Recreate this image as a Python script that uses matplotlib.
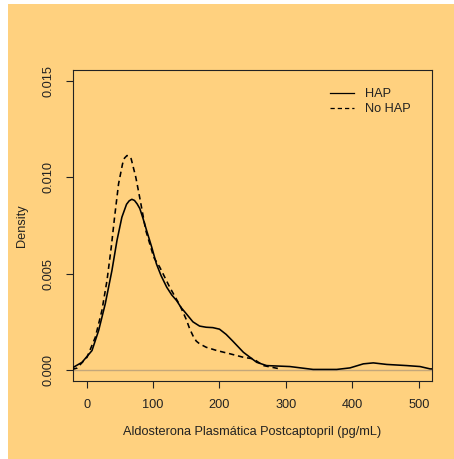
import matplotlib
matplotlib.use("Agg")
import matplotlib.pyplot as plt
from matplotlib.patches import Rectangle

# Density curve for HAP (solid)
hap_x = [-30, -19.6, -7, 8, 18, 28, 38, 45.6, 53, 60, 64, 68, 72, 76, 80, 85, 90, 98, 105, 112,
         120.5, 128, 135.5, 142, 150, 160, 170, 180, 190, 200, 210, 220, 236, 256,
         271, 306, 341, 376.5, 396.5,
         416.6, 431.6, 451.8, 482, 502, 517, 540]
hap_y = [0.00005, 0.00015, 0.0004, 0.00101, 0.00205, 0.00344, 0.00516, 0.00672, 0.00793,
         0.0086, 0.00878, 0.00886, 0.0088, 0.00862, 0.00838, 0.00785, 0.00727, 0.00637,
         0.00551, 0.0049,
         0.0043, 0.0039, 0.0036, 0.00325, 0.00292, 0.0025, 0.00228, 0.00222, 0.0022,
         0.00212, 0.00185, 0.0015, 0.00092, 0.0004,
         0.00023, 0.00018, 0.00003, 0.00003, 0.00011,
         0.00032, 0.00037, 0.00029, 0.00023, 0.00018, 0.00006, 0.00003]

# Density curve for No HAP (dashed)
nohap_x = [-22, -14.6, 0.5, 13, 23, 30.6, 37, 42, 48, 54, 57, 60.7, 64, 67, 74, 80.7, 89, 95,
           101, 110, 125, 140.5, 150, 155, 160, 165, 170, 180, 196, 216, 236, 251, 266, 291]
nohap_y = [0.00003, 0.0001, 0.00066, 0.0017, 0.0031, 0.00465, 0.00637, 0.00793, 0.00966,
           0.0107, 0.011, 0.01113, 0.0111, 0.01096, 0.01, 0.0088, 0.00724, 0.00655, 0.00585,
           0.00534, 0.0043, 0.00335, 0.00262, 0.00215, 0.00178, 0.0015, 0.00136, 0.00118,
           0.00101, 0.00084, 0.00066, 0.00058, 0.00023, 0.00006]

x_ticks = [0, 100, 200, 300, 400, 500]
y_ticks = [0.000, 0.005, 0.010, 0.015]
y_tick_labels = ["0.000", "0.005", "0.010", "0.015"]
series_labels = ["HAP", "No HAP"]

BG = "#FFD17F"
FS = 9.2

plt.rcParams['font.family'] = ['Liberation Sans', 'DejaVu Sans']

W, H = 454, 459
fig = plt.figure(figsize=(W / 100, H / 100), dpi=100)
fig.patch.set_facecolor("white")
fig.add_artist(Rectangle((8 / W, 0), 1 - 8 / W, 1 - 4 / H, transform=fig.transFigure,
                         facecolor=BG, edgecolor="none", zorder=-10))

ax = fig.add_axes([73 / W, 1 - 381 / H, (432 - 73) / W, (381 - 70) / H])
ax.set_facecolor(BG)

ax.axhline(0, color="#C4A77A", lw=1.0, zorder=1)
ax.plot(hap_x, hap_y, color="black", lw=1.15, solid_joinstyle="round", label=series_labels[0], zorder=3)
ax.plot(nohap_x, nohap_y, color="black", lw=1.15, dashes=(3.4, 2.4), label=series_labels[1], zorder=3)

ax.set_xlim(-20.6, 520)
ax.set_ylim(-0.00057, 0.01557)

ax.set_xticks(x_ticks)
ax.set_xticklabels([str(t) for t in x_ticks], fontsize=FS, color="#222222")
ax.set_yticks(y_ticks)
ax.set_yticklabels(y_tick_labels, fontsize=FS, rotation=90, va="center", color="#222222")
ax.tick_params(axis="both", direction="out", length=5, width=0.8, color="#222222")
ax.tick_params(axis="x", pad=8)
ax.tick_params(axis="y", pad=8)

for s in ax.spines.values():
    s.set_linewidth(0.8)
    s.set_color("#222222")

ax.set_xlabel("Aldosterona Plasmática Postcaptopril (pg/mL)", fontsize=FS, labelpad=11, color="#222222")
ax.set_ylabel("Density", fontsize=FS, labelpad=11, color="#222222")

leg = ax.legend(loc="upper left", bbox_to_anchor=((330 - 73) / 359, 1 - (88 - 70) / 311),
                frameon=False, fontsize=FS, handlelength=1.9, handletextpad=0.85,
                labelspacing=0.25, borderpad=0, borderaxespad=0)
for t in leg.get_texts():
    t.set_color("#222222")
for l in leg.get_lines():
    l.set_linewidth(0.9)

fig.savefig("out.png", dpi=100, facecolor=fig.get_facecolor())
